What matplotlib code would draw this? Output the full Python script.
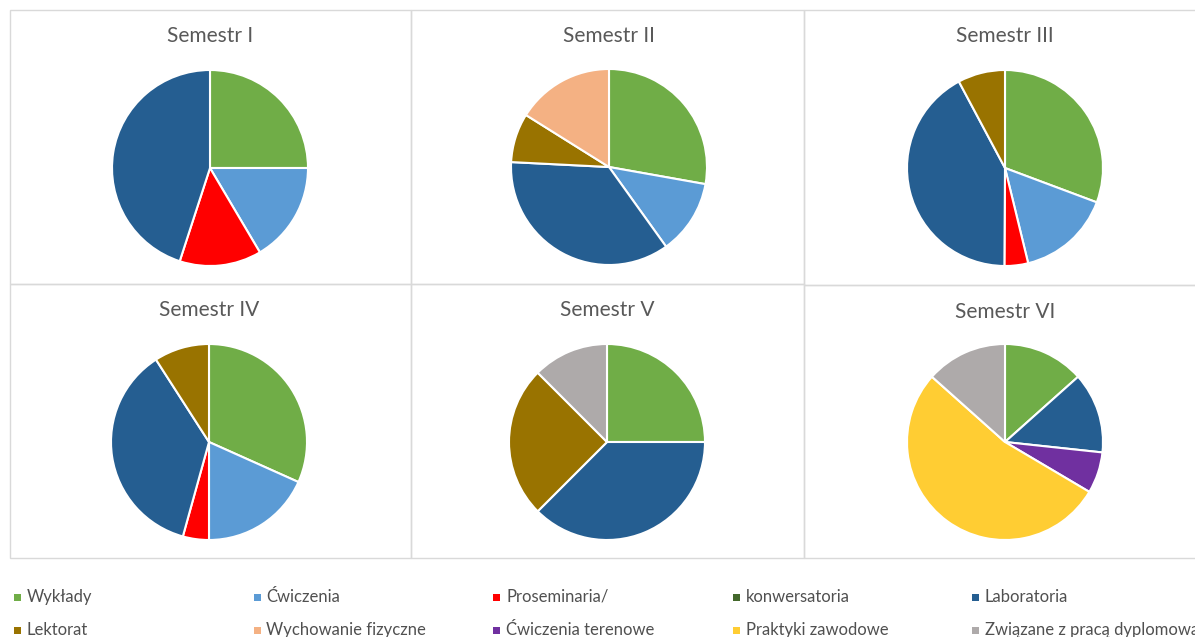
import matplotlib
matplotlib.use("Agg")
import matplotlib.pyplot as plt
from matplotlib.patches import Rectangle

plt.rcParams['font.family'] = ['Lato', 'DejaVu Sans']

# kategorie zajęć
categories = ['Wykłady', 'Ćwiczenia', 'Proseminaria/', 'konwersatoria', 'Laboratoria',
              'Lektorat', 'Wychowanie fizyczne', 'Ćwiczenia terenowe', 'Praktyki zawodowe',
              'Związane z pracą dyplomową']
colors = ['#70AD47', '#5B9BD5', '#FF0000', '#43682B', '#255E91',
          '#997300', '#F4B183', '#7030A0', '#FFCD33', '#AEAAAA']

semesters = ['Semestr I', 'Semestr II', 'Semestr III', 'Semestr IV', 'Semestr V', 'Semestr VI']

# udział procentowy, kolejność jak w categories
sem1 = [25.0, 16.5, 13.5, 0, 45.0, 0, 0, 0, 0, 0]
sem2 = [27.8, 12.3, 0, 0, 35.7, 8.1, 16.1, 0, 0, 0]
sem3 = [30.7, 15.5, 3.9, 0, 42.1, 7.8, 0, 0, 0, 0]
sem4 = [31.7, 18.3, 4.3, 0, 36.6, 9.1, 0, 0, 0, 0]
sem5 = [25.0, 0, 0, 0, 37.5, 25.0, 0, 0, 0, 12.5]
sem6 = [13.4, 0, 0, 0, 13.3, 0, 0, 6.8, 53.1, 13.4]
values = [sem1, sem2, sem3, sem4, sem5, sem6]

W, H = 1195, 637
fig = plt.figure(figsize=(W / 100, H / 100), dpi=100)

def fx(x):
    return x / W

def fy(y):
    return 1 - y / H

# ramki paneli (piksele: lewo, góra, prawo, dół)
panels = [(10, 10, 411, 284), (411, 10, 804, 284), (804, 10, 1198, 285),
          (10, 284, 411, 558), (411, 284, 804, 558), (804, 285, 1198, 558)]
centers = [(210, 168), (609, 167), (1005, 168), (209, 442), (607, 442), (1005, 442)]
title_y = [36, 36, 36, 310, 310, 312]
r = 98

for (x0, y0, x1, y1) in panels:
    fig.patches.append(Rectangle((fx(x0), fy(y1)), fx(x1 - x0), (y1 - y0) / H,
                                 transform=fig.transFigure, fill=False,
                                 edgecolor='#D9D9D9', linewidth=1))

for i, vals in enumerate(values):
    cx, cy = centers[i]
    ax = fig.add_axes([fx(cx - r), fy(cy + r), 2 * r / W, 2 * r / H])
    v = [a for a in vals if a > 0]
    c = [colors[k] for k, a in enumerate(vals) if a > 0]
    ax.pie(v, colors=c, startangle=90, counterclock=False, radius=1,
           wedgeprops=dict(edgecolor='white', linewidth=1.5))
    ax.set_xlim(-1, 1)
    ax.set_ylim(-1, 1)
    ax.set_aspect('equal')
    ax.axis('off')
    fig.text(fx(cx), fy(title_y[i]), semesters[i], ha='center', va='center',
             fontsize=15, color='#595959')

# legenda
for k, name in enumerate(categories):
    row, col = divmod(k, 5)
    mx = 14 + col * 239.5
    my = 597 + row * 33
    fig.patches.append(Rectangle((fx(mx), fy(my + 3.5)), 7 / W, 7 / H,
                                 transform=fig.transFigure, facecolor=colors[k],
                                 edgecolor='none'))
    fig.text(fx(mx + 13), fy(my), name, ha='left', va='center',
             fontsize=12, color='#505050')

plt.savefig('out.png', dpi=100)
plt.close()
